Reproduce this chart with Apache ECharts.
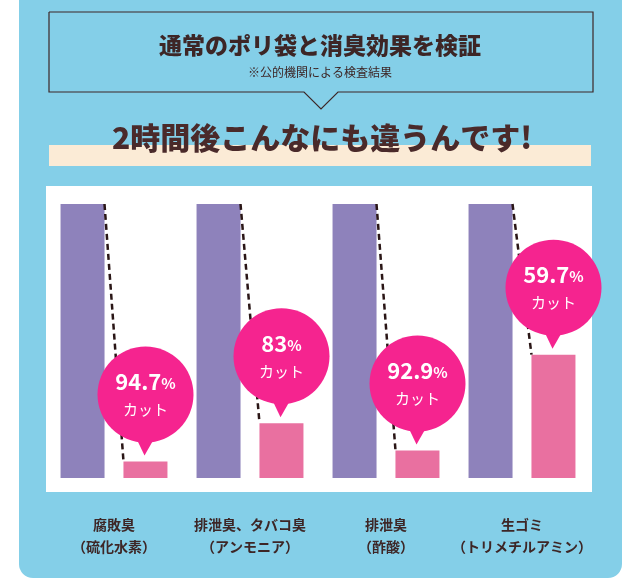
<!DOCTYPE html><html><head><meta charset="utf-8">
<script src="https://cdn.jsdelivr.net/npm/echarts@6/dist/echarts.min.js"></script>
<style>html,body{margin:0;background:#fff}#c{width:640px;height:584px}</style></head><body><div id="c"></div>
<script>
const categories = ['腐敗臭\n（硫化水素）','排泄臭、タバコ臭\n（アンモニア）','排泄臭\n（酢酸）','生ゴミ\n（トリメチルアミン）'];
const normalBag = [100,100,100,100];
const deodorBag = [6,20,10,45];
const cutRates = ['94.7','83','92.9','59.7'];
const F = '"Noto Sans CJK JP"';
const brown = '#3d2626';
const chart = echarts.init(document.getElementById('c'));
chart.setOption({
  animation:false,
  graphic:[
    {type:'rect',shape:{x:19,y:-20,width:603,height:598,r:14},style:{fill:'#84cfe8'},z:-10},
    {type:'rect',shape:{x:46,y:186,width:546,height:306},style:{fill:'#fff'},z:-9},
    {type:'polyline',shape:{points:[[49,12],[593,12],[593,92],[338,92],[321,109],[304,92],[49,92],[49,12]]},style:{fill:'#84cfe8',stroke:brown,lineWidth:1.2}},
    {type:'text',style:{x:320,y:45,text:'通常のポリ袋と消臭効果を検証',font:'900 23px '+F,fill:brown,align:'center',verticalAlign:'middle'}},
    {type:'text',style:{x:320,y:72,text:'※公的機関による検査結果',font:'12px '+F,fill:brown,align:'center',verticalAlign:'middle'}},
    {type:'rect',shape:{x:49,y:145,width:542,height:21},style:{fill:'#fbebd6'}},
    {type:'text',style:{x:322,y:138,text:'2時間後こんなにも違うんです!',font:'900 30px '+F,fill:'#4a2a2a',align:'center',verticalAlign:'middle'}}
  ],
  grid:{left:46,right:50,top:204,bottom:106},
  xAxis:{type:'category',data:categories,axisLine:{show:false},axisTick:{show:false},
    axisLabel:{interval:0,margin:36,color:brown,fontFamily:F,fontWeight:'bold',fontSize:14,lineHeight:22}},
  yAxis:{type:'value',min:0,max:100,show:false,splitLine:{show:false}},
  series:[
    {type:'bar',data:normalBag,barWidth:44,barGap:'43%',itemStyle:{color:'#8e82bb'}},
    {type:'bar',data:deodorBag,barWidth:44,itemStyle:{color:'#e970a0'}},
    {type:'custom',z:10,data:deodorBag.map((v,i)=>[i,v]),
     renderItem:(p,api)=>{
       const i=api.value(0);
       const top=api.coord([i,normalBag[i]]);
       const pk=api.coord([i,api.value(1)]);
       const cx=top[0];
       const x1=cx-9.5, x2=cx+9.5, pcx=cx+31.5;
       const by=pk[1]-67;
       return {type:'group',children:[
         {type:'line',shape:{x1:x1,y1:top[1],x2:x2,y2:pk[1]},style:{stroke:'#2a1616',lineWidth:2.5,lineDash:[6,4]}},
         {type:'polygon',shape:{points:[[pcx-11,by+40],[pcx+11,by+40],[pcx-1,pk[1]-6]]},style:{fill:'#f5248f'}},
         {type:'circle',shape:{cx:pcx,cy:by,r:48},style:{fill:'#f5248f'}},
         {type:'text',style:{x:pcx,y:by-13,text:'{a|'+cutRates[i]+'}{b|%}',align:'center',verticalAlign:'middle',
           rich:{a:{fontSize:22,fontWeight:'bold',fill:'#fff',fontFamily:F},b:{fontSize:15,fontWeight:'bold',fill:'#fff',fontFamily:F,padding:[4,0,0,0]}}}},
         {type:'text',style:{x:pcx,y:by+15,text:'カット',align:'center',verticalAlign:'middle',font:'15px '+F,fill:'#fff'}}
       ]};
     }}
  ]
});
</script></body></html>
